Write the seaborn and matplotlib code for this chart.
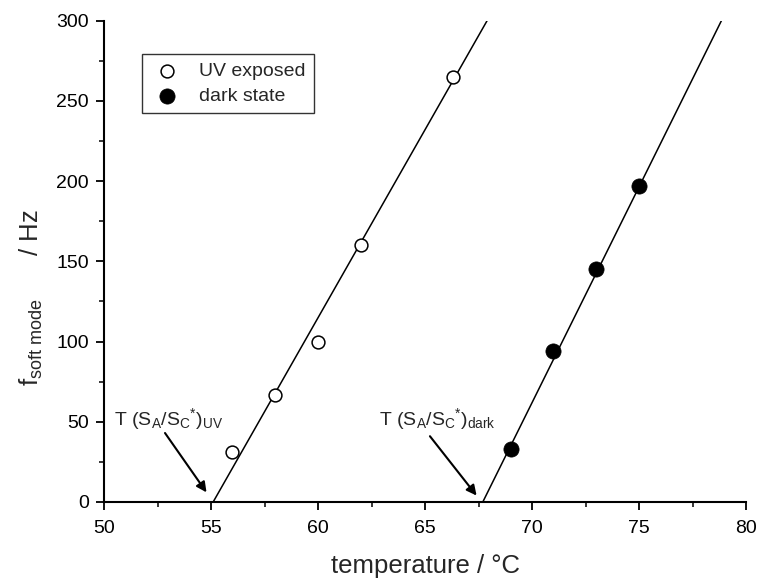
import matplotlib
matplotlib.use('Agg')
import matplotlib.pyplot as plt
import seaborn as sns
import pandas as pd

# measured soft mode frequencies
uv_temp = [56.0, 58.0, 60.0, 62.0, 66.3]
uv_freq = [31, 67, 100, 160, 265]
dark_temp = [69.0, 71.0, 73.0, 75.0]
dark_freq = [33, 94, 145, 197]

# linear fits (end points)
uv_fit_temp = [55.1, 67.9]
uv_fit_freq = [0, 300]
dark_fit_temp = [67.7, 78.85]
dark_fit_freq = [0, 300]

sns.set_style('ticks')
plt.rcParams['font.family'] = ['Liberation Sans', 'DejaVu Sans']
plt.rcParams['mathtext.fontset'] = 'custom'
plt.rcParams['mathtext.rm'] = 'Liberation Sans'
plt.rcParams['mathtext.it'] = 'Liberation Sans'

fig = plt.figure(figsize=(7.57, 5.80), dpi=100)
ax = fig.add_axes([0.1374, 0.1345, 0.8481, 0.8298])

sns.lineplot(x=uv_fit_temp, y=uv_fit_freq, ax=ax, color='black', linewidth=1.1)
sns.lineplot(x=dark_fit_temp, y=dark_fit_freq, ax=ax, color='black', linewidth=1.1)

uv = pd.DataFrame({'T': uv_temp, 'f': uv_freq})
dark = pd.DataFrame({'T': dark_temp, 'f': dark_freq})
sns.scatterplot(data=uv, x='T', y='f', ax=ax, marker='o', s=85, facecolor='white',
                edgecolor='black', linewidth=1.1, label='UV exposed', zorder=3)
sns.scatterplot(data=dark, x='T', y='f', ax=ax, marker='o', s=120, color='black',
                edgecolor='black', linewidth=0.5, label='dark state', zorder=3)

ax.set_xlim(50, 80)
ax.set_ylim(0, 300)
ax.set_xticks([50, 55, 60, 65, 70, 75, 80])
ax.set_xticks([52.5, 57.5, 62.5, 67.5, 72.5, 77.5], minor=True)
ax.set_yticks([0, 50, 100, 150, 200, 250, 300])
ax.set_yticks([25, 75, 125, 175, 225, 275], minor=True)
ax.tick_params(which='major', direction='out', length=6, width=1.3, labelsize=14,
               color='black', labelcolor='black', pad=5)
ax.tick_params(axis='x', which='major', pad=7)
ax.tick_params(which='minor', direction='out', length=3.5, width=1.1, color='black')
sns.despine(ax=ax)
for side in ['left', 'bottom']:
    ax.spines[side].set_linewidth(1.5)
    ax.spines[side].set_color('black')

ax.set_xlabel('temperature / °C', fontsize=18.5, labelpad=12)
ax.set_ylabel(r'f$_{\mathregular{soft\ mode}}$      / Hz', fontsize=18.5)
ax.yaxis.set_label_coords(-0.092, 0.425)

# transition temperature labels and arrows
ax.text(50.45, 52, r'T (S$_\mathregular{A}$/S$_\mathregular{C}$$^{*}$)$_\mathregular{UV}$',
        fontsize=14, va='center', ha='left')
ax.text(62.85, 52, r'T (S$_\mathregular{A}$/S$_\mathregular{C}$$^{*}$)$_\mathregular{dark}$',
        fontsize=14, va='center', ha='left')
arrow = dict(arrowstyle='-|>', color='black', lw=1.5, shrinkA=0, shrinkB=0,
             mutation_scale=15)
ax.annotate('', xy=(54.79, 6), xytext=(52.85, 43), arrowprops=arrow)
ax.annotate('', xy=(67.41, 4), xytext=(65.23, 41), arrowprops=arrow)

leg = ax.legend(loc='upper left', bbox_to_anchor=(0.059, 0.93), fontsize=14,
                frameon=True, fancybox=False, edgecolor='black', borderpad=0.4,
                handletextpad=0.8, labelspacing=0.4, handlelength=1.75,
                borderaxespad=0)
leg.get_frame().set_linewidth(1.0)

fig.savefig('out.png', dpi=100)
